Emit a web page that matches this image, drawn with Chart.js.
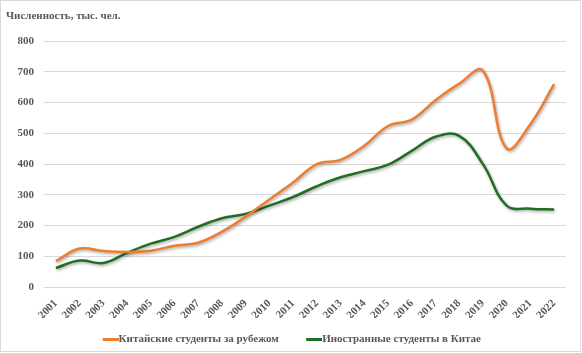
<html>
<head>
<title>Students chart</title>
<script src="https://cdn.jsdelivr.net/npm/chart.js@4.4.1/dist/chart.umd.min.js"></script>
<style>
body { margin: 0; background: #fff; }
#wrap { width: 582px; height: 353px; }
</style>
<script>
// годы
var years = ['2001','2002','2003','2004','2005','2006','2007','2008','2009','2010','2011',
             '2012','2013','2014','2015','2016','2017','2018','2019','2020','2021','2022'];
// Китайские студенты за рубежом, тыс. чел.
var abroad = [84, 125, 117, 114, 118, 134, 144, 180, 229, 285, 340,
              400, 414, 460, 524, 545, 608, 662, 704, 451, 530, 660];
// Иностранные студенты в Китае, тыс. чел.
var foreign = [62, 86, 78, 111, 141, 163, 196, 224, 238, 265, 293,
               328, 357, 377, 398, 443, 489, 492, 400, 265, 255, 252];
var yTicks = [0, 100, 200, 300, 400, 500, 600, 700, 800];

var txtColor = '#595959';
var serifBold = { family: "'Liberation Serif', 'Times New Roman', serif", size: 11, weight: 'bold' };

// значок легенды: линия 16px, прижатая к тексту
function legendMark( color ){
  var c = document.createElement( 'canvas' );
  c.width = 33;
  c.height = 3;
  var g = c.getContext( '2d' );
  g.fillStyle = color;
  g.fillRect( 17, 0, 16, 3 );
  return c;
}

// тень под линиями как в Excel
var shadowPlugin = {
  id: 'shadow',
  beforeDatasetsDraw: function( chart ){
    var c = chart.ctx;
    c.save();
    c.shadowColor = 'rgba(0,0,0,0.35)';
    c.shadowBlur = 3;
    c.shadowOffsetX = 1;
    c.shadowOffsetY = 1.5;
  },
  afterDatasetsDraw: function( chart ){
    chart.ctx.restore();
  }
};

// рамка вокруг диаграммы
var framePlugin = {
  id: 'frame',
  afterDraw: function( chart ){
    var c = chart.ctx;
    c.save();
    c.strokeStyle = '#d9d9d9';
    c.lineWidth = 1;
    c.strokeRect( 0.5, 0.5, chart.width - 2, chart.height - 2 );
    c.restore();
  }
};

function draw(){
  var ctx = document.getElementById( 'myChart' ).getContext( '2d' );
  new Chart( ctx, {
    type: 'line',
    data: {
      labels: years,
      datasets: [
        {
          label: 'Китайские студенты за рубежом',
          data: abroad,
          borderColor: '#ED7D31',
          backgroundColor: '#ED7D31',
          borderWidth: 2.5,
          pointRadius: 0,
          pointStyle: legendMark( '#ED7D31' ),
          tension: 0.4
        },
        {
          label: 'Иностранные студенты в Китае',
          data: foreign,
          borderColor: '#1E6F23',
          backgroundColor: '#1E6F23',
          borderWidth: 2.5,
          pointRadius: 0,
          pointStyle: legendMark( '#1E6F23' ),
          tension: 0.4
        }
      ]
    },
    options: {
      responsive: false,
      animation: false,
      layout: { padding: { left: 6, right: 16, top: 0, bottom: -2 } },
      plugins: {
        title: {
          display: true,
          text: 'Численность, тыс. чел.',
          align: 'start',
          color: txtColor,
          font: serifBold,
          padding: { top: 10, bottom: 18 }
        },
        legend: {
          position: 'bottom',
          labels: {
            color: txtColor,
            font: serifBold,
            usePointStyle: true,
            pointStyleWidth: 22,
            boxHeight: 3,
            padding: 16
          }
        },
        tooltip: { enabled: false }
      },
      scales: {
        x: {
          offset: true,
          afterFit: function( scale ){ scale.height = 31; },
          grid: { display: false },
          border: { display: false },
          ticks: {
            color: txtColor,
            font: serifBold,
            maxRotation: 45,
            minRotation: 45,
            autoSkip: false,
            padding: 2
          }
        },
        y: {
          min: 0,
          max: 800,
          afterFit: function( scale ){ scale.width = 38; },
          afterBuildTicks: function( scale ){
            scale.ticks = yTicks.map( function( v ){ return { value: v }; } );
          },
          grid: { color: '#d9d9d9', drawTicks: false },
          border: { display: false },
          ticks: {
            color: txtColor,
            font: serifBold,
            padding: 10
          }
        }
      }
    },
    plugins: [ shadowPlugin, framePlugin ]
  });
}
</script>
</head>
<body onload="draw();">
  <div id="wrap">
    <canvas id="myChart" width="582" height="353"></canvas>
  </div>
</body>
</html>
